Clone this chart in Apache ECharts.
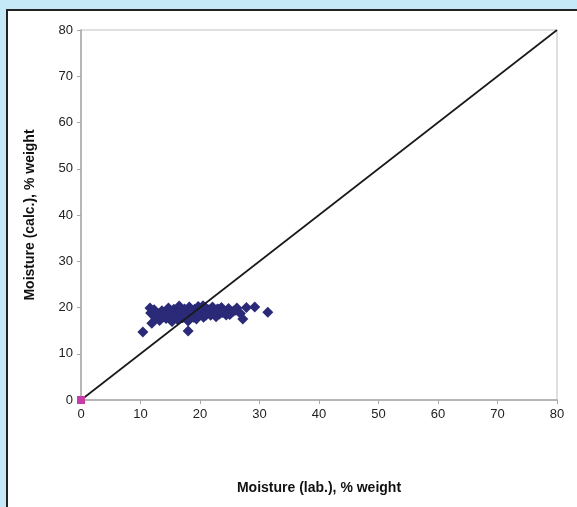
<!DOCTYPE html>
<html><head><meta charset="utf-8">
<script src="https://cdn.jsdelivr.net/npm/echarts@6/dist/echarts.min.js"></script>
<style>html,body{margin:0;padding:0;background:#c6e9f8;}#c{width:577px;height:507px;}</style>
</head><body><div id="c"></div>
<script>
const xTicks = [0,10,20,30,40,50,60,70,80];
const yTicks = [0,10,20,30,40,50,60,70,80];
const labX = [10.4,11.6,11.7,11.9,12.3,12.8,13.2,13.6,14.0,14.3,14.7,15.0,15.3,15.6,15.9,16.2,16.5,16.8,17.1,17.4,17.7,18.0,18.2,18.5,18.8,19.1,19.4,19.7,20.0,20.3,20.6,20.9,21.2,21.5,21.8,22.1,22.4,22.7,23.0,23.3,23.6,24.0,24.4,24.8,25.2,25.6,26.2,26.8,27.2,27.8,29.2,31.4,18.0,13.0,14.5,16.0,17.5,19.0,20.5,22.0,23.5,25.0,15.2,16.7,18.3,19.8,21.4,22.9,24.3,12.5,17.0,20.0,13.8,15.5,17.2,18.9,21.0,23.8,26.0,14.2,16.4,19.5];
const calcY = [14.7,19.9,18.8,16.6,19.5,18.0,17.2,19.3,18.5,17.6,19.9,18.2,17.0,19.6,18.6,17.4,20.3,18.9,17.8,19.7,18.2,17.1,20.1,19.0,18.1,19.6,17.5,20.2,18.7,19.4,17.9,20.0,18.9,19.5,18.3,20.1,19.1,18.0,19.7,18.6,20.0,19.3,18.4,19.8,18.8,19.2,19.9,18.7,17.5,20.0,20.1,19.0,14.9,18.6,19.0,18.2,19.3,18.4,20.4,18.8,19.2,18.5,18.8,19.4,18.9,18.4,19.1,19.6,18.8,17.8,19.0,19.3,18.0,18.1,18.5,17.9,18.3,18.9,19.4,19.0,17.6,18.6];
const originPoint = [[0,0]];
const refLine = [[0,0],[80,80]];

const pts = labX.map((x,i)=>[x,calcY[i]]);
const chart = echarts.init(document.getElementById('c'));
const font = 'Liberation Sans';
chart.setOption({
  backgroundColor:'#c6e9f8',
  animation:false,
  graphic:[{type:'rect',shape:{x:7,y:10,width:600,height:520},style:{fill:'#fff',stroke:'#222',lineWidth:2},z:-10}],
  grid:{left:81,top:30,right:20,bottom:107,show:true,borderColor:'#c0c0c0',borderWidth:1},
  xAxis:{type:'value',min:0,max:80,interval:10,
    name:'Moisture (lab.), % weight',nameLocation:'middle',nameGap:81,
    nameTextStyle:{fontFamily:font,fontSize:14,fontWeight:'bold',color:'#111'},
    axisLine:{show:true,lineStyle:{color:'#a8a8a8',width:1.5}},
    axisTick:{show:true,length:4,lineStyle:{color:'#a8a8a8'}},
    axisLabel:{fontFamily:font,fontSize:13,color:'#222',margin:8,
      formatter:v=>xTicks.includes(v)?String(v):''},
    splitLine:{show:false}},
  yAxis:{type:'value',min:0,max:80,interval:10,
    name:'Moisture (calc.), % weight',nameLocation:'middle',nameGap:44,
    nameTextStyle:{fontFamily:font,fontSize:14,fontWeight:'bold',color:'#111'},
    axisLine:{show:true,lineStyle:{color:'#a8a8a8',width:1.5}},
    axisTick:{show:true,length:4,lineStyle:{color:'#a8a8a8'}},
    axisLabel:{fontFamily:font,fontSize:13,color:'#222',margin:8,
      formatter:v=>yTicks.includes(v)?String(v):''},
    splitLine:{show:false}},
  series:[
    {type:'line',data:refLine,symbol:'none',lineStyle:{color:'#1a1a1a',width:1.7},z:3},
    {type:'scatter',data:pts,symbol:'diamond',symbolSize:11,itemStyle:{color:'#2a2a78',opacity:1},z:2},
    {type:'scatter',data:originPoint,symbol:'rect',symbolSize:8,itemStyle:{color:'#c83ca8',opacity:1},z:4}
  ]
});
</script></body></html>
